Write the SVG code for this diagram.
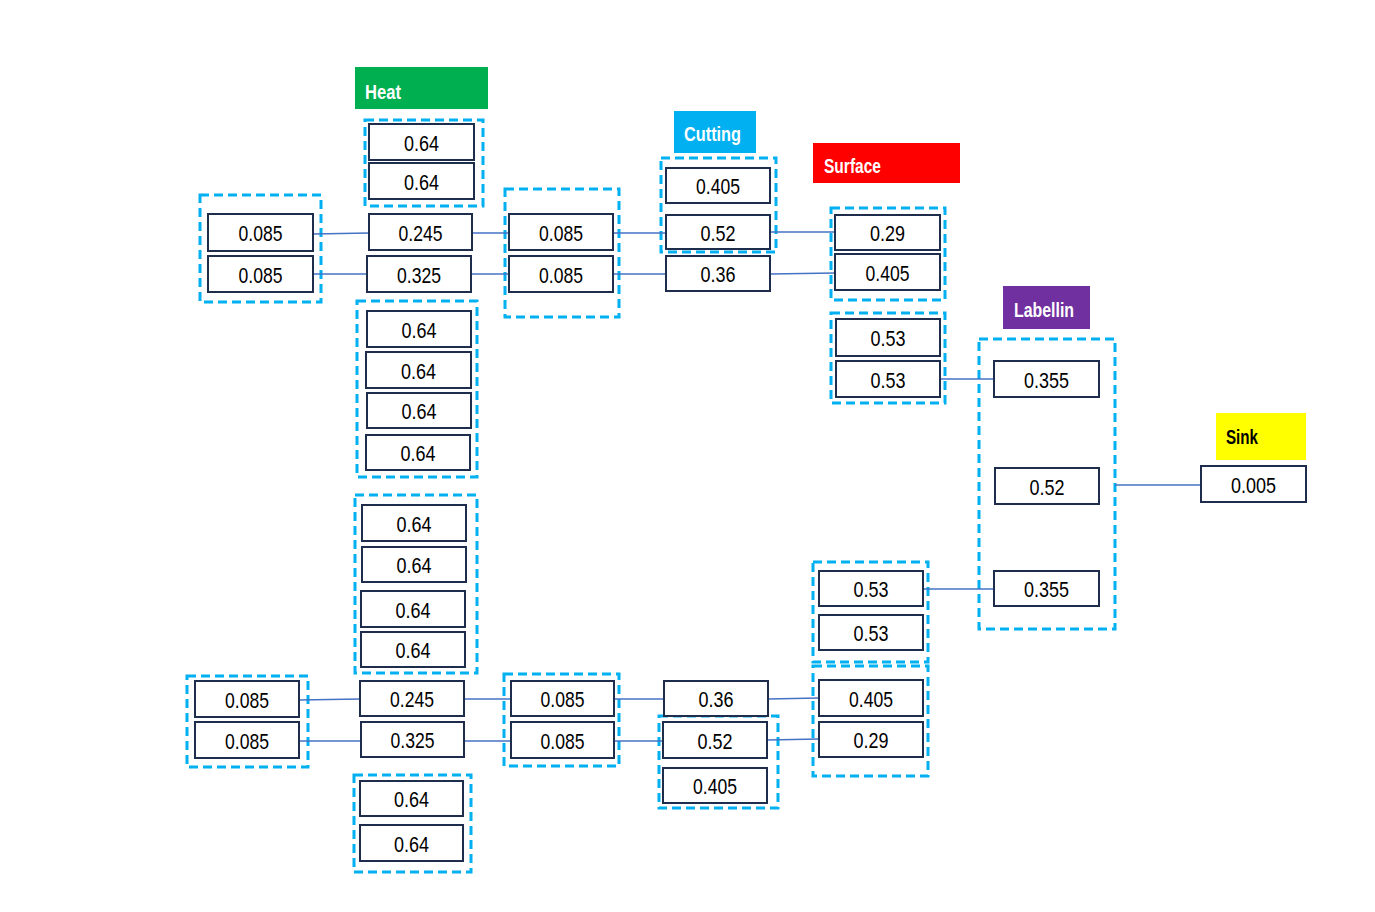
<svg xmlns="http://www.w3.org/2000/svg" width="1375" height="912" viewBox="0 0 1375 912">
<style>
.bg{fill:#ffffff}
.grp{fill:none;stroke:#00b0f0;stroke-width:3;stroke-dasharray:9 5}
.box{fill:#ffffff;stroke:#1f2d4d;stroke-width:2}
.val{font-family:"Liberation Sans",Arial,sans-serif;font-size:22px;fill:#000;text-anchor:middle}
.lbl{font-family:"Liberation Sans",Arial,sans-serif;font-size:20px;font-weight:bold;fill:#fff}
.conn line{stroke:#4472c4;stroke-width:1.3}
</style>
<rect class="bg" x="0" y="0" width="1375" height="912"/>

<g id="groups">
<rect class="grp" x="365" y="120" width="118" height="86"/>
<rect class="grp" x="200" y="195" width="121" height="107"/>
<rect class="grp" x="505" y="189" width="114" height="128"/>
<rect class="grp" x="661" y="158" width="115" height="94"/>
<rect class="grp" x="831" y="208" width="114" height="92"/>
<rect class="grp" x="831" y="313" width="114" height="90"/>
<rect class="grp" x="979" y="339" width="136" height="290"/>
<rect class="grp" x="357" y="301" width="120" height="176"/>
<rect class="grp" x="355" y="495" width="122" height="178"/>
<rect class="grp" x="187" y="676" width="121" height="91"/>
<rect class="grp" x="504" y="674" width="115" height="92"/>
<rect class="grp" x="354" y="775" width="117" height="97"/>
<rect class="grp" x="659" y="716" width="119" height="92"/>
<rect class="grp" x="813" y="562" width="115" height="100"/>
<rect class="grp" x="813" y="666" width="115" height="110"/>
</g>

<g id="connectors" class="conn">
<line x1="313" y1="234" x2="369" y2="233"/>
<line x1="313" y1="274" x2="367" y2="274"/>
<line x1="472" y1="233" x2="509" y2="233"/>
<line x1="471" y1="274" x2="509" y2="274"/>
<line x1="613" y1="233" x2="666" y2="233"/>
<line x1="613" y1="274" x2="666" y2="274"/>
<line x1="770" y1="232" x2="835" y2="232"/>
<line x1="770" y1="274" x2="835" y2="273"/>
<line x1="940" y1="379" x2="994" y2="379"/>
<line x1="1115" y1="485" x2="1201" y2="485"/>
<line x1="923" y1="589" x2="994" y2="589"/>
<line x1="299" y1="700" x2="360" y2="699"/>
<line x1="299" y1="741" x2="361" y2="741"/>
<line x1="464" y1="699" x2="511" y2="699"/>
<line x1="464" y1="741" x2="511" y2="741"/>
<line x1="614" y1="699" x2="664" y2="699"/>
<line x1="614" y1="741" x2="663" y2="741"/>
<line x1="768" y1="699" x2="819" y2="698"/>
<line x1="767" y1="740" x2="819" y2="739"/>
</g>

<g id="heat-label"><rect x="355" y="67" width="133" height="42" fill="#00b050"/><text class="lbl" x="365" y="99" textLength="36" lengthAdjust="spacingAndGlyphs">Heat</text></g>
<g id="cutting-label"><rect x="674" y="111" width="82" height="42" fill="#00b0f0"/><text class="lbl" x="684" y="141" textLength="57" lengthAdjust="spacingAndGlyphs">Cutting</text></g>
<g id="surface-label"><rect x="813" y="143" width="147" height="40" fill="#ff0000"/><text class="lbl" x="824" y="173" textLength="57" lengthAdjust="spacingAndGlyphs">Surface</text></g>
<g id="labellin-label"><rect x="1003" y="286" width="87" height="43" fill="#7030a0"/><text class="lbl" x="1014" y="317" textLength="60" lengthAdjust="spacingAndGlyphs">Labellin</text></g>
<g id="sink-label"><rect x="1216" y="413" width="90" height="47" fill="#ffff00"/><text class="lbl" x="1226" y="444" fill="#000" style="fill:#000" textLength="32" lengthAdjust="spacingAndGlyphs">Sink</text></g>

<g id="h1"><rect class="box" x="369" y="124" width="105" height="36"/><text class="val" x="421.5" y="150.5" textLength="35" lengthAdjust="spacingAndGlyphs">0.64</text></g>
<g id="h2"><rect class="box" x="369" y="163" width="105" height="36"/><text class="val" x="421.5" y="189.5" textLength="35" lengthAdjust="spacingAndGlyphs">0.64</text></g>
<g id="a1"><rect class="box" x="208" y="214" width="105" height="37"/><text class="val" x="260.5" y="241" textLength="44" lengthAdjust="spacingAndGlyphs">0.085</text></g>
<g id="a2"><rect class="box" x="208" y="256" width="105" height="36"/><text class="val" x="260.5" y="282.5" textLength="44" lengthAdjust="spacingAndGlyphs">0.085</text></g>
<g id="b1"><rect class="box" x="369" y="214" width="103" height="36"/><text class="val" x="420.5" y="240.5" textLength="44" lengthAdjust="spacingAndGlyphs">0.245</text></g>
<g id="b2"><rect class="box" x="367" y="256" width="104" height="36"/><text class="val" x="419" y="282.5" textLength="44" lengthAdjust="spacingAndGlyphs">0.325</text></g>
<g id="c1"><rect class="box" x="509" y="214" width="104" height="36"/><text class="val" x="561" y="240.5" textLength="44" lengthAdjust="spacingAndGlyphs">0.085</text></g>
<g id="c2"><rect class="box" x="509" y="256" width="104" height="36"/><text class="val" x="561" y="282.5" textLength="44" lengthAdjust="spacingAndGlyphs">0.085</text></g>
<g id="d1"><rect class="box" x="666" y="168" width="104" height="35"/><text class="val" x="718" y="194" textLength="44" lengthAdjust="spacingAndGlyphs">0.405</text></g>
<g id="d2"><rect class="box" x="666" y="215" width="104" height="34"/><text class="val" x="718" y="240.5" textLength="35" lengthAdjust="spacingAndGlyphs">0.52</text></g>
<g id="d3"><rect class="box" x="666" y="256" width="104" height="35"/><text class="val" x="718" y="282" textLength="35" lengthAdjust="spacingAndGlyphs">0.36</text></g>
<g id="e1"><rect class="box" x="835" y="215" width="105" height="35"/><text class="val" x="887.5" y="241" textLength="35" lengthAdjust="spacingAndGlyphs">0.29</text></g>
<g id="e2"><rect class="box" x="835" y="254" width="105" height="36"/><text class="val" x="887.5" y="280.5" textLength="44" lengthAdjust="spacingAndGlyphs">0.405</text></g>
<g id="f1"><rect class="box" x="836" y="319" width="104" height="37"/><text class="val" x="888" y="346" textLength="35" lengthAdjust="spacingAndGlyphs">0.53</text></g>
<g id="f2"><rect class="box" x="836" y="361" width="104" height="36"/><text class="val" x="888" y="387.5" textLength="35" lengthAdjust="spacingAndGlyphs">0.53</text></g>
<g id="g1"><rect class="box" x="994" y="361" width="105" height="36"/><text class="val" x="1046.5" y="387.5" textLength="45" lengthAdjust="spacingAndGlyphs">0.355</text></g>
<g id="g2"><rect class="box" x="995" y="468" width="104" height="36"/><text class="val" x="1047" y="494.5" textLength="35" lengthAdjust="spacingAndGlyphs">0.52</text></g>
<g id="g3"><rect class="box" x="994" y="571" width="105" height="35"/><text class="val" x="1046.5" y="597" textLength="45" lengthAdjust="spacingAndGlyphs">0.355</text></g>
<g id="sink"><rect class="box" x="1201" y="466" width="105" height="36"/><text class="val" x="1253.5" y="492.5" textLength="45" lengthAdjust="spacingAndGlyphs">0.005</text></g>

<g id="m1"><rect class="box" x="367" y="311" width="104" height="36"/><text class="val" x="419" y="337.5" textLength="35" lengthAdjust="spacingAndGlyphs">0.64</text></g>
<g id="m2"><rect class="box" x="366" y="352" width="105" height="36"/><text class="val" x="418.5" y="378.5" textLength="35" lengthAdjust="spacingAndGlyphs">0.64</text></g>
<g id="m3"><rect class="box" x="367" y="393" width="104" height="35"/><text class="val" x="419" y="419" textLength="35" lengthAdjust="spacingAndGlyphs">0.64</text></g>
<g id="m4"><rect class="box" x="366" y="435" width="104" height="35"/><text class="val" x="418" y="461" textLength="35" lengthAdjust="spacingAndGlyphs">0.64</text></g>
<g id="m5"><rect class="box" x="362" y="505" width="104" height="36"/><text class="val" x="414" y="531.5" textLength="35" lengthAdjust="spacingAndGlyphs">0.64</text></g>
<g id="m6"><rect class="box" x="362" y="547" width="104" height="35"/><text class="val" x="414" y="573" textLength="35" lengthAdjust="spacingAndGlyphs">0.64</text></g>
<g id="m7"><rect class="box" x="361" y="591" width="104" height="36"/><text class="val" x="413" y="617.5" textLength="35" lengthAdjust="spacingAndGlyphs">0.64</text></g>
<g id="m8"><rect class="box" x="361" y="632" width="104" height="35"/><text class="val" x="413" y="658" textLength="35" lengthAdjust="spacingAndGlyphs">0.64</text></g>

<g id="p1"><rect class="box" x="195" y="681" width="104" height="36"/><text class="val" x="247" y="707.5" textLength="44" lengthAdjust="spacingAndGlyphs">0.085</text></g>
<g id="p2"><rect class="box" x="195" y="722" width="104" height="36"/><text class="val" x="247" y="748.5" textLength="44" lengthAdjust="spacingAndGlyphs">0.085</text></g>
<g id="q1"><rect class="box" x="360" y="681" width="104" height="35"/><text class="val" x="412" y="707" textLength="44" lengthAdjust="spacingAndGlyphs">0.245</text></g>
<g id="q2"><rect class="box" x="361" y="722" width="103" height="35"/><text class="val" x="412.5" y="748" textLength="44" lengthAdjust="spacingAndGlyphs">0.325</text></g>
<g id="q3"><rect class="box" x="360" y="781" width="103" height="35"/><text class="val" x="411.5" y="807" textLength="35" lengthAdjust="spacingAndGlyphs">0.64</text></g>
<g id="q4"><rect class="box" x="360" y="825" width="103" height="36"/><text class="val" x="411.5" y="851.5" textLength="35" lengthAdjust="spacingAndGlyphs">0.64</text></g>
<g id="r1"><rect class="box" x="511" y="681" width="103" height="35"/><text class="val" x="562.5" y="707" textLength="44" lengthAdjust="spacingAndGlyphs">0.085</text></g>
<g id="r2"><rect class="box" x="511" y="722" width="103" height="36"/><text class="val" x="562.5" y="748.5" textLength="44" lengthAdjust="spacingAndGlyphs">0.085</text></g>
<g id="s1"><rect class="box" x="664" y="681" width="104" height="35"/><text class="val" x="716" y="707" textLength="35" lengthAdjust="spacingAndGlyphs">0.36</text></g>
<g id="s2"><rect class="box" x="663" y="722" width="104" height="36"/><text class="val" x="715" y="748.5" textLength="35" lengthAdjust="spacingAndGlyphs">0.52</text></g>
<g id="s3"><rect class="box" x="663" y="768" width="104" height="35"/><text class="val" x="715" y="794" textLength="44" lengthAdjust="spacingAndGlyphs">0.405</text></g>
<g id="t1"><rect class="box" x="819" y="571" width="104" height="35"/><text class="val" x="871" y="597" textLength="35" lengthAdjust="spacingAndGlyphs">0.53</text></g>
<g id="t2"><rect class="box" x="819" y="615" width="104" height="35"/><text class="val" x="871" y="641" textLength="35" lengthAdjust="spacingAndGlyphs">0.53</text></g>
<g id="t3"><rect class="box" x="819" y="680" width="104" height="36"/><text class="val" x="871" y="706.5" textLength="44" lengthAdjust="spacingAndGlyphs">0.405</text></g>
<g id="t4"><rect class="box" x="819" y="722" width="104" height="35"/><text class="val" x="871" y="748" textLength="35" lengthAdjust="spacingAndGlyphs">0.29</text></g>
</svg>
